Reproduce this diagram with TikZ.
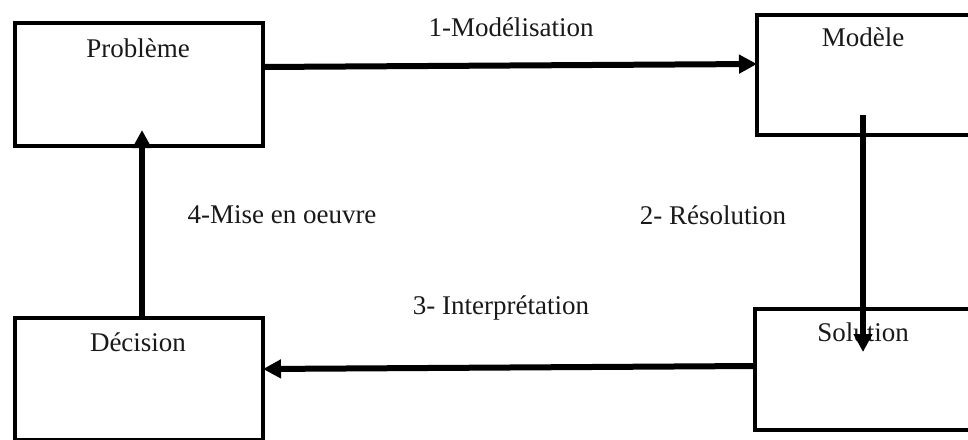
\documentclass[tikz,border=0pt]{standalone}
\usepackage{fontspec}
\setmainfont{Liberation Serif}
\newfontfamily\diagserif{Liberation Serif}
\usetikzlibrary{arrows.meta,calc}
\begin{document}
\begin{tikzpicture}[x=1pt,y=-1pt,
  box/.style={draw=black,line width=4pt,rectangle,inner sep=0pt,outer sep=0pt},
  lbl/.style={inner sep=0pt,font=\diagserif\fontsize{27}{32}\selectfont,text=black!90},
  conn/.style={line width=6pt,-{Triangle[length=18pt,width=18pt]}}]
\useasboundingbox (0,0) rectangle (968,439);
\clip (0,0) rectangle (968,439);
\node[box,minimum width=248pt,minimum height=123pt] (prob) at (139,84.5) {};
\node[box,minimum width=233pt,minimum height=120pt] (mod) at (873.5,75) {};
\node[box,minimum width=248pt,minimum height=122pt] (dec) at (139,379) {};
\node[box,minimum width=235pt,minimum height=121pt] (sol) at (872.5,369.5) {};
\node[lbl] (probt) at (138,48) {Problème};
\node[lbl] (modt) at (863,37) {Modèle};
\node[lbl] (dect) at (138,342) {Décision};
\node[lbl] (solt) at (863,332) {Solution};
\node[lbl] (l1) at (511,27) {1-Modélisation};
\node[lbl] (l2) at (713,215) {2- Résolution};
\node[lbl] (l3) at (501,308) {3- Interprétation};
\node[lbl] (l4) at (282,215) {4-Mise en oeuvre};
\draw[conn] ($(prob.north east)+(0,44)$) -- ($(mod.north west)+(0,49)$);
\draw[conn] ($(mod.north west)+(106,100)$) -- ($(sol.north west)+(108,43)$);
\draw[conn] ($(sol.north west)+(0,57)$) -- ($(dec.north east)+(0,51)$);
\draw[conn] ($(dec.north west)+(127,0)$) -- ($(prob.north west)+(127,107)$);
\end{tikzpicture}
\end{document}
